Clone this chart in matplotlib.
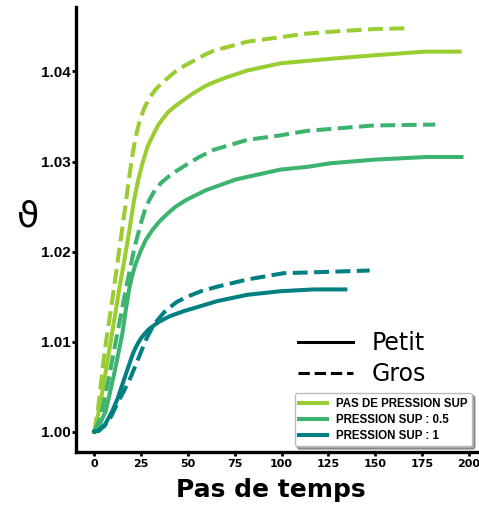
import matplotlib
matplotlib.use("Agg")
import matplotlib.pyplot as plt
from matplotlib.lines import Line2D

# light green: no extra pressure
lgs_x = [0, 2, 4.6, 7.8, 10.5, 13.3, 16, 18.6, 21.3, 23.5, 25.7, 28.5, 32, 34, 36.4, 39.5, 43.5, 47.5, 52.3, 59.4,
         63.8, 70, 81.6, 99.3, 125.9, 150, 177, 195]
lgs_y = [1.0, 1.0018, 1.0048, 1.0088, 1.0122, 1.0158, 1.019, 1.0222, 1.0258, 1.028, 1.0298, 1.0317, 1.0332, 1.034,
         1.0347, 1.0355, 1.0362, 1.0368, 1.0375, 1.0384, 1.0388, 1.0393, 1.0401, 1.0409, 1.0414, 1.0418, 1.0422, 1.0422]
lgd_x = [0, 2, 5.5, 9.5, 13.2, 16.9, 19, 20.5, 22.2, 24.2, 26.6, 29.5, 32.8, 36, 39.9, 44, 48.8, 59.4, 63.8, 81.6,
         99.3, 113.5, 125.9, 149, 168.5]
lgd_y = [1.0, 1.0025, 1.0089, 1.0145, 1.02, 1.0255, 1.0288, 1.0309, 1.0328, 1.0345, 1.0359, 1.0371, 1.038, 1.0387,
         1.0394, 1.0401, 1.0407, 1.0419, 1.0423, 1.0433, 1.0438, 1.0442, 1.0444, 1.0447, 1.0448]

# medium green: pressure 0.5
mgs_x = [0, 2, 6.1, 10.5, 14.9, 16.8, 18.6, 20.3, 22.2, 24.8, 27.5, 31, 34.6, 39, 43.5, 48.8, 59.4, 75.4, 99.3,
         113.5, 125.9, 149, 177.3, 196]
mgs_y = [1.0, 1.0004, 1.0023, 1.0063, 1.0108, 1.0135, 1.0158, 1.0174, 1.0187, 1.0201, 1.0213, 1.0224, 1.0233, 1.0242,
         1.025, 1.0257, 1.0268, 1.028, 1.0291, 1.0294, 1.0298, 1.0302, 1.0305, 1.0305]
mgd_x = [0, 3.4, 7.8, 12.2, 17.2, 21.3, 24.8, 27, 29.3, 32.3, 35.5, 39.5, 43.5, 48.8, 56, 63.8, 81.6, 99.3, 113.5,
         149, 182]
mgd_y = [1.0, 1.0016, 1.006, 1.0108, 1.0162, 1.0203, 1.0231, 1.0246, 1.0257, 1.0268, 1.0276, 1.0283, 1.0289, 1.0296,
         1.0305, 1.0313, 1.0324, 1.0329, 1.0334, 1.034, 1.0341]

# teal: pressure 1
ts_x = [0, 2.5, 6, 9.6, 12.5, 14.9, 17.5, 20.5, 22, 23.5, 25, 27, 28.7, 30.5, 34.5, 40, 47.9, 56, 65.6, 81.6, 99.3,
        117, 134]
ts_y = [1.0, 1.0001, 1.0009, 1.0023, 1.0037, 1.0052, 1.0068, 1.0086, 1.0093, 1.0099, 1.0104, 1.0109, 1.0113, 1.0116,
        1.0122, 1.0128, 1.0134, 1.0139, 1.0145, 1.0152, 1.0156, 1.0158, 1.0158]
td_x = [0, 2.5, 5.3, 9, 12.4, 15.5, 18.5, 21.5, 25, 28, 31.5, 35, 37, 39, 41.5, 44, 49.7, 57, 65.6, 81.6, 101, 117,
        132, 147]
td_y = [1.0, 1.0002, 1.0006, 1.0017, 1.0032, 1.0044, 1.0056, 1.0071, 1.0089, 1.0104, 1.0118, 1.0127, 1.0132, 1.0136,
        1.014, 1.0144, 1.015, 1.0156, 1.0161, 1.0169, 1.0176, 1.0177, 1.0178, 1.0179]

labels = ['PAS DE PRESSION SUP', 'PRESSION SUP : 0.5', 'PRESSION SUP : 1']
colors = ['#9acd32', '#3cb371', '#008080']

fig = plt.figure(figsize=(4.79, 5.08), dpi=100)
ax = fig.add_axes([0.1587, 0.1102, 0.839, 0.876])

lw = 2.9
ax.plot(lgs_x, lgs_y, color=colors[0], lw=lw)
ax.plot(lgd_x, lgd_y, color=colors[0], lw=lw, ls='--')
ax.plot(mgs_x, mgs_y, color=colors[1], lw=lw)
ax.plot(mgd_x, mgd_y, color=colors[1], lw=lw, ls='--')
ax.plot(ts_x, ts_y, color=colors[2], lw=lw)
ax.plot(td_x, td_y, color=colors[2], lw=lw, ls='--')

ax.set_xlim(-9.75, 204.75)
ax.set_ylim(0.99775, 1.04715)
ax.set_xticks([0, 25, 50, 75, 100, 125, 150, 175, 200])
ax.set_yticks([1.00, 1.01, 1.02, 1.03, 1.04])
ax.set_yticklabels(['1.00', '1.01', '1.02', '1.03', '1.04'])

for s in ['top', 'right']:
    ax.spines[s].set_visible(False)
for s in ['left', 'bottom']:
    ax.spines[s].set_linewidth(2.4)

ax.tick_params(axis='y', length=3, width=2, pad=1)
ax.tick_params(axis='x', length=3, width=2, pad=2)
for t in ax.get_yticklabels():
    t.set_fontfamily('Liberation Sans')
    t.set_fontweight('bold')
    t.set_fontsize(11)
for t in ax.get_xticklabels():
    t.set_fontfamily('DejaVu Sans')
    t.set_fontweight('bold')
    t.set_fontsize(8)

ax.set_xlabel('Pas de temps', fontsize=18, fontweight='bold', va='center')
ax.xaxis.set_label_coords(0.485, -0.085)
ax.set_ylabel('ϑ', fontsize=26, rotation=0, ha='center', va='center')
ax.yaxis.set_label_coords(-0.12, 0.53)

# line style legend
style_handles = [Line2D([], [], color='black', lw=2.2),
                 Line2D([], [], color='black', lw=2.2, ls='--')]
leg1 = ax.legend(style_handles, ['Petit', 'Gros'], loc='upper left', bbox_to_anchor=(0.50, 0.32),
                 frameon=False, fontsize=17, labelspacing=0.3, handlelength=2.3)
ax.add_artist(leg1)

# colour legend
color_handles = [Line2D([], [], color=c, lw=lw) for c in colors]
leg2 = ax.legend(color_handles, labels, loc='lower right', shadow=True, fancybox=True,
                 labelspacing=0.35, handlelength=2.4,
                 prop={'family': 'Liberation Sans', 'weight': 'bold', 'size': 8.3})
leg2.get_frame().set_edgecolor('#bbbbbb')

fig.savefig('out.png', dpi=100)
